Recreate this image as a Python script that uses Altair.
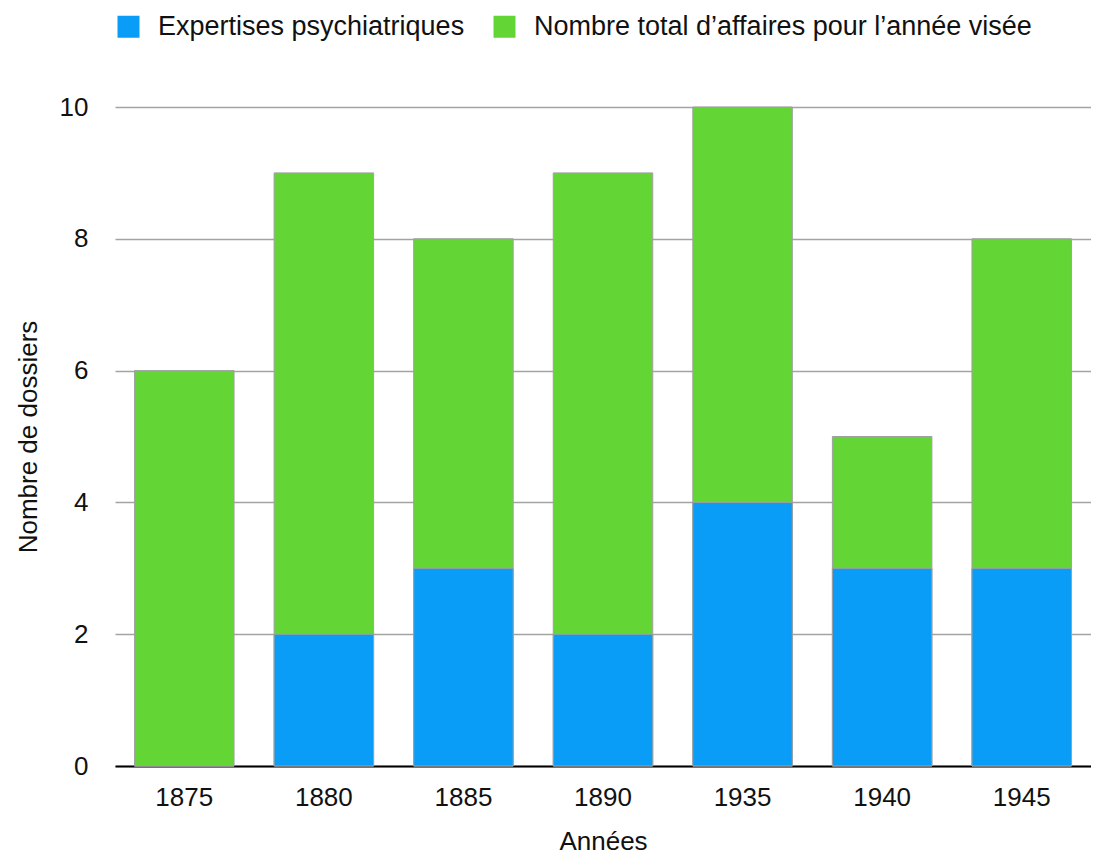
import altair as alt
import pandas as pd

annees = ["1875", "1880", "1885", "1890", "1935", "1940", "1945"]
expertises = [0, 2, 3, 2, 4, 3, 3]
totaux = [6, 9, 8, 9, 10, 5, 8]
series = ["Expertises psychiatriques", "Nombre total d’affaires pour l’année visée"]
couleurs = ["#0A9DF7", "#63D535"]
graduations = [0, 2, 4, 6, 8, 10]

rows = []
for a, t in zip(annees, totaux):
    rows.append({"Années": a, "serie": series[1], "valeur": t, "ordre": 0})
for a, e in zip(annees, expertises):
    rows.append({"Années": a, "serie": series[0], "valeur": e, "ordre": 1})
df = pd.DataFrame(rows)

font = "Liberation Sans"

chart = alt.Chart(df).mark_bar(stroke="#a0a0a0", strokeWidth=1).encode(
    x=alt.X(
        "Années:N",
        sort=annees,
        scale=alt.Scale(paddingInner=0.287, paddingOuter=0.14),
        axis=alt.Axis(
            title="Années", labelAngle=0, ticks=False, grid=False,
            domainColor="#000000", domainWidth=2,
            labelFont=font, labelFontSize=26, labelColor="#111111", labelPadding=18,
            titleFont=font, titleFontSize=26, titleFontWeight="normal", titleColor="#111111",
            titlePadding=18,
        ),
    ),
    y=alt.Y(
        "valeur:Q",
        stack=None,
        scale=alt.Scale(domain=[0, 10]),
        axis=alt.Axis(
            title="Nombre de dossiers", values=graduations, domain=False, ticks=False,
            gridColor="#a3a3a3", gridWidth=1.5,
            labelFont=font, labelFontSize=26, labelColor="#111111", labelPadding=27,
            titleFont=font, titleFontSize=26, titleFontWeight="normal", titleColor="#111111",
            titlePadding=18,
        ),
    ),
    color=alt.Color(
        "serie:N",
        scale=alt.Scale(domain=series, range=couleurs),
        legend=alt.Legend(
            orient="none", legendX=0, legendY=-94, direction="horizontal", title=None,
            symbolType="square", symbolSize=484, symbolStrokeWidth=0,
            labelFont=font, labelFontSize=27, labelColor="#111111", labelLimit=0,
            labelOffset=16, columnPadding=26, padding=0,
        ),
    ),
    order=alt.Order("ordre:Q"),
).properties(
    width=976,
    height=659,
    padding={"left": 7, "top": 5, "right": 0, "bottom": 0},
).configure_view(stroke=None)

chart.save("out.html", embed_options={"renderer": "svg", "actions": False})
